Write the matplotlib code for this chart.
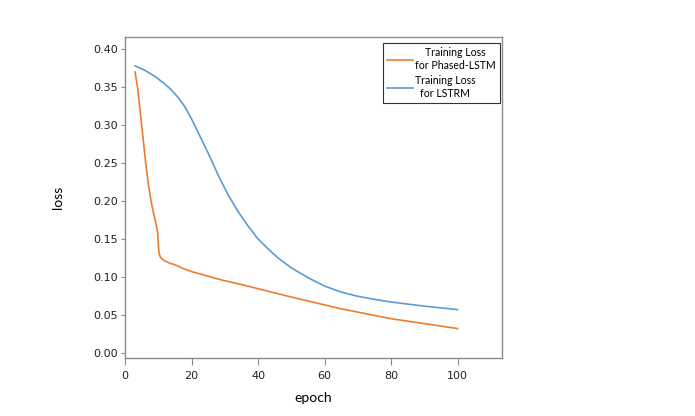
import matplotlib
matplotlib.use("Agg")
import matplotlib.pyplot as plt

# values
epoch_lstrm = [3, 6, 9, 12, 14, 16, 18, 20, 22, 25, 28, 31, 34, 37, 40, 43, 46, 50,
               55, 60, 65, 70, 75, 80, 90, 100]
loss_lstrm = [0.378, 0.372, 0.364, 0.354, 0.346, 0.336, 0.324, 0.308, 0.290, 0.263,
              0.234, 0.208, 0.186, 0.167, 0.150, 0.137, 0.125, 0.112, 0.099, 0.088,
              0.080, 0.0745, 0.0705, 0.067, 0.0615, 0.057]

epoch_phased = [3, 3.8, 4.6, 5.4, 6.2, 7.0, 7.8, 8.6, 9.3, 9.8, 10.0, 10.2, 10.5, 11.0,
                12, 13.5, 15, 17.5, 20, 25, 29, 35, 50, 65, 80, 100]
loss_phased = [0.370, 0.348, 0.315, 0.283, 0.250, 0.222, 0.200, 0.183, 0.170, 0.158,
               0.142, 0.132, 0.127, 0.124, 0.121, 0.118, 0.116, 0.111, 0.107, 0.101,
               0.096, 0.090, 0.0735, 0.058, 0.045, 0.032]

xticks = [0, 20, 40, 60, 80, 100]
yticks = [0.00, 0.05, 0.10, 0.15, 0.20, 0.25, 0.30, 0.35, 0.40]

fig = plt.figure(figsize=(6.95, 4.16), dpi=100)
ax = fig.add_axes([0.180, 0.139, 0.542, 0.772])

ax.plot(epoch_phased, loss_phased, color="#ED7D31", lw=1.2,
        label="Training Loss\nfor Phased-LSTM")
ax.plot(epoch_lstrm, loss_lstrm, color="#5B9BD5", lw=1.2,
        label="Training Loss\nfor LSTRM")

ax.set_xlim(0, 113.3)
ax.set_ylim(-0.007, 0.416)
ax.set_xticks(xticks)
ax.set_xticklabels([str(v) for v in xticks])
ax.set_yticks(yticks)
ax.set_yticklabels(["%.2f" % v for v in yticks])

for s in ax.spines.values():
    s.set_color("#8c8c8c")
    s.set_linewidth(1.0)
ax.tick_params(axis="both", direction="out", length=3, width=0.8, color="#8c8c8c",
               labelsize=8, labelcolor="#222222", pad=2)
ax.tick_params(axis="x", length=5, pad=4)

ax.set_xlabel("epoch", fontsize=10, family="Lato", labelpad=8)
ax.set_ylabel("loss", fontsize=10, family="Lato", labelpad=21)

leg = ax.legend(loc="upper right", bbox_to_anchor=(0.995, 0.982), borderaxespad=0,
                fancybox=False, framealpha=1, edgecolor="#333333",
                prop={"family": "Lato", "size": 7.6}, handlelength=2.5,
                handletextpad=0.15, labelspacing=0.4, borderpad=0.4)
leg.get_frame().set_linewidth(0.8)
for t in leg.get_texts():
    t.set_multialignment("center")

fig.savefig("out.png", dpi=100)
